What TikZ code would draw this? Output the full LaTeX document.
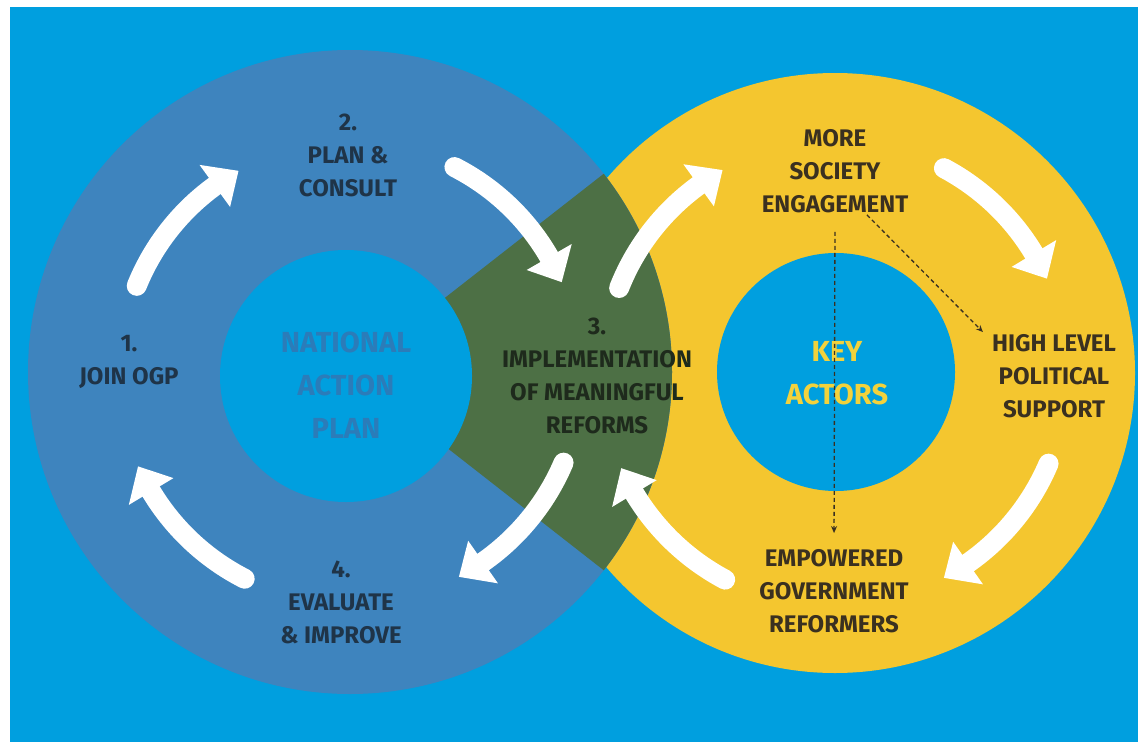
\documentclass[tikz,border=0pt]{standalone}
\usepackage{fontspec}
\setmainfont{Fira Sans}
\usetikzlibrary{calc,arrows.meta}
\definecolor{bgblue}{HTML}{009FDF}
\definecolor{steel}{HTML}{3E84BE}
\definecolor{ogpgreen}{HTML}{4D7045}
\definecolor{ogpyellow}{HTML}{F4C62F}
\definecolor{txtblue}{HTML}{1F3448}
\definecolor{txtgreen}{HTML}{1E2A1C}
\definecolor{txtyellow}{HTML}{3A3020}
\definecolor{napblue}{HTML}{2B7CB9}
\definecolor{keyyellow}{HTML}{F2D23C}
% ring arrow: center, radius, start angle, tip angle
\newcommand{\ringarrow}[4]{%
  \draw[shaft] ($(#1)+(#3:#2)$) arc[start angle=#3, end angle=#4+6, radius=#2];
  \fill[head] ($(#1)+(#4:#2)$) -- ($(#1)+(#4+7:#2+26)$) -- ($(#1)+(#4+7:#2-26)$) -- cycle;
}
\begin{document}
\begin{tikzpicture}[x=1pt,y=1pt,
  lbl/.style={font=\bfseries\fontsize{24}{33}\selectfont, align=center, inner sep=0pt},
  bigl/.style={font=\bfseries\fontsize{29}{43}\selectfont, align=center, inner sep=0pt},
  shaft/.style={white, line width=20pt, line cap=round},
  head/.style={fill=white},
  dashedlink/.style={txtyellow, line width=1.3pt, dash pattern=on 4pt off 3pt, -{Stealth[length=7pt,width=6pt]}}
]
\useasboundingbox (0,0) rectangle (1140,-744);
\fill[white] (0,0) rectangle (1140,-744);
\fill[bgblue] (10,-7) rectangle (1138,-742);

\coordinate (C1) at (350,-372);
\coordinate (C1i) at (346,-376);
\coordinate (C2) at (835,-373);
\coordinate (C2i) at (836,-372);

% discs
\fill[ogpyellow] (C2) circle[radius=300];
\fill[steel] (C1) circle[radius=322];
\fill[ogpgreen] (C1) -- ($(C1)+(38:322)$) arc[start angle=38, end angle=-38, radius=322] -- cycle;
\fill[bgblue] (C1i) circle[radius=126];
\fill[bgblue] (C2i) circle[radius=119];

% arrows
\ringarrow{C1}{230}{158}{119}
\ringarrow{C1}{230}{63}{23}
\ringarrow{C1}{232}{-23}{-62}
\ringarrow{C1}{232}{-117}{-156}
\ringarrow{C2}{232}{158.5}{119}
\ringarrow{C2}{232}{62}{24}
\ringarrow{C2}{232}{-23}{-62}
\ringarrow{C2}{234}{-118}{-156}

% labels
\node[lbl, text=txtblue] (s1) at (129,-361.5) {1.\\JOIN OGP};
\node[lbl, text=txtblue] (s2) at (348,-155) {2.\\PLAN \&\\CONSULT};
\node[lbl, text=txtgreen] (s3) at (597,-375.5) {3.\\IMPLEMENTATION\\OF MEANINGFUL\\REFORMS};
\node[lbl, text=txtblue] (s4) at (341,-602) {4.\\EVALUATE\\\& IMPROVE};
\node[bigl, text=napblue] (nap) at (346,-385) {NATIONAL\\ACTION\\PLAN};
\node[bigl, text=keyyellow] (ka) at (837,-373.5) {KEY\\ACTORS};
\node[lbl, text=txtyellow] (me) at (835,-171) {MORE\\SOCIETY\\ENGAGEMENT};
\node[lbl, text=txtyellow] (hl) at (1054,-376) {HIGH LEVEL\\POLITICAL\\SUPPORT};
\node[lbl, text=txtyellow] (eg) at (834,-591) {EMPOWERED\\GOVERNMENT\\REFORMERS};

% dashed links
\coordinate (d1) at ($(me.south)+(32,-2)$);
\coordinate (d2) at ($(hl.north west)+(-9,2)$);
\draw[dashedlink, shorten <=19pt, shorten >=16pt] (me.south) -- (eg.north);
\draw[dashedlink] (d1) -- (d2);
\end{tikzpicture}
\end{document}
